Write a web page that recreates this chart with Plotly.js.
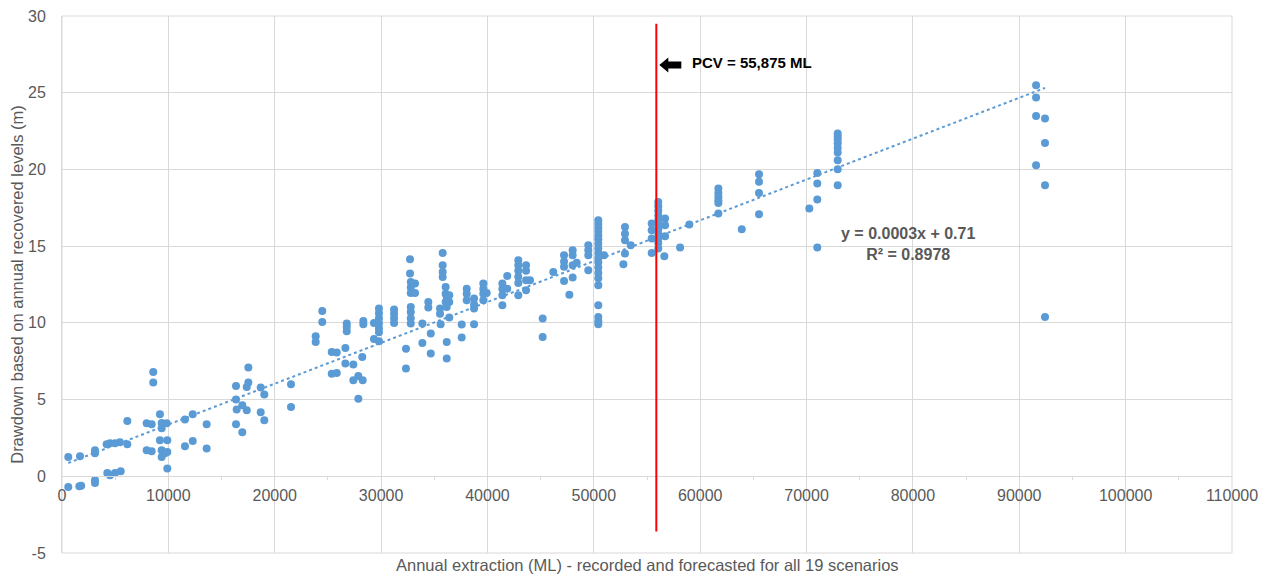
<!DOCTYPE html>
<html>
<head>
<meta charset="utf-8">
<script src="https://cdn.plot.ly/plotly-3.0.1.min.js"></script>
<style>
  html, body { margin: 0; padding: 0; background: #ffffff; }
  #chart { width: 1278px; height: 576px; }
</style>
</head>
<body>
<div id="chart"></div>
<script>
// Annual extraction (ML) per scenario-year, recorded and forecast
const extractionML = [
  590, 1690, 3100, 3100, 4200, 4510, 4980, 5450, 6140, 6140,
  7960, 8430, 8580, 8580, 9210, 9370, 9840, 9370, 9210, 9900,
  7960, 8430, 9370, 9900, 9370, 9680, 9900, 11560, 12290, 11560,
  12290, 13600, 13600, 16360, 17520, 17520, 17370, 18680, 19020, 16360,
  16420, 16950, 17370, 18680, 19020, 16360, 16950, 590, 1630, 1800,
  3100, 3100, 4260, 4510, 4980, 5520,
  21530, 21530, 23850, 23850, 24470, 24470, 25360, 25830, 25360, 25830,
  26640, 26770, 26770, 26770, 26640, 27390, 28230, 27390, 27860, 28270,
  27860, 28330, 28330, 29330, 29330, 29800, 29800, 29800, 29800, 29800,
  29800, 29800, 31220, 31220, 31220, 31220, 32340, 32340, 32790, 32790,
  32790, 32790, 32790, 32790, 32790, 32720, 32720, 33190, 33190, 33880,
  33880, 34440, 34440, 34670, 34670, 35790, 35790, 35790, 35790, 36070,
  36070, 36070, 36410, 36410, 35540, 35540, 35600, 36410, 36170, 36170,
  36170, 36170, 38050, 38050, 38050, 38740, 38740, 38740, 38740, 37580,
  37580, 39610, 39610, 39610, 39610, 39930, 41400, 41400, 41400, 41400,
  41860, 41860, 42900, 42900, 42900, 42900, 42900, 42900, 43630, 43630,
  43630, 43630, 44000, 45190, 45190, 46190, 47200, 47200, 47200, 47200,
  47700, 48010, 48010, 48010, 48010, 48390, 49480, 49480, 49480, 49480,
  50420, 50420, 50420, 50420, 50420, 50420, 50420, 50420, 50420, 50420,
  50420, 50420, 50420, 50420, 50420, 50420, 50420, 50420, 50420,
  50960, 52930, 52930, 52930, 52930, 52780, 53470, 55440, 55440, 55440,
  55440,
  56060, 56060, 56060, 56060, 56060, 56060, 56060, 56060, 56060, 56060,
  56060, 56700, 56700, 56700, 56630, 58110, 58980,
  61710, 61710, 61710, 61710, 61710, 61710, 63910,
  65530, 65530, 65530, 65530, 70260, 71010, 71010, 71010, 71010,
  72930, 72930, 72930, 72930, 72930, 72930, 72930, 72930, 72930,
  91580, 91580, 91580, 91580, 92420, 92420, 92420, 92420
];

// Drawdown based on annual recovered levels (m), paired with extractionML
const drawdownM = [
  1.26, 1.30, 1.69, 1.50, 2.09, 2.15, 2.15, 2.22, 3.60, 2.09,
  3.46, 3.39, 6.80, 6.11, 4.04, 3.47, 3.46, 3.13, 2.35, 2.35,
  1.69, 1.63, 1.69, 1.58, 1.26, 1.50, 0.50, 3.70, 4.04, 1.96,
  2.30, 3.39, 1.81, 5.89, 7.09, 6.11, 5.82, 5.78, 5.33, 5.00,
  4.35, 4.63, 4.30, 4.17, 3.65, 3.39, 2.87, -0.70, -0.65, -0.62,
  -0.44, -0.26, 0.22, 0.07, 0.22, 0.33,
  6.00, 4.52, 9.13, 8.75, 10.78, 10.06, 8.10, 8.06, 6.69, 6.73,
  8.36, 9.95, 9.73, 9.45, 7.35, 7.28, 7.78, 6.26, 6.54, 6.26,
  5.06, 10.12, 9.91, 9.99, 8.95, 8.80, 10.93, 10.63, 10.30, 9.97,
  9.65, 9.39, 10.87, 10.60, 10.30, 9.99, 8.32, 7.02, 12.67, 12.30,
  11.95, 11.04, 10.70, 10.30, 9.95, 14.15, 13.21, 12.56, 11.95, 9.95,
  8.69, 11.36, 11.00, 9.30, 8.00, 14.56, 13.75, 13.32, 12.99, 12.34,
  11.90, 11.36, 11.80, 11.36, 10.93, 10.60, 9.91, 10.35, 8.75, 7.67,
  11.04, 11.70, 12.23, 11.90, 11.47, 11.58, 11.20, 10.93, 9.91, 9.89,
  9.04, 12.56, 12.20, 11.90, 11.47, 11.95, 12.56, 12.20, 11.80, 11.15,
  13.06, 12.23, 14.08, 13.75, 13.40, 13.00, 12.60, 11.80, 13.75, 13.40,
  12.78, 12.12, 12.78, 10.28, 9.08, 13.32, 14.41, 14.00, 13.65, 12.73,
  11.84, 14.73, 14.41, 13.75, 12.95, 13.91, 15.06, 14.73, 14.41, 13.43,
  16.69, 16.45, 16.20, 15.95, 15.70, 15.45, 15.15, 14.85, 14.55, 14.25,
  13.95, 13.60, 13.25, 12.90, 12.45, 11.15, 10.38, 10.10, 9.91,
  14.41, 16.25, 15.80, 15.38, 14.52, 13.82, 15.06, 16.47, 16.04, 15.50,
  14.56,
  17.88, 17.60, 17.30, 17.00, 16.70, 16.40, 16.10, 15.80, 15.50, 15.20,
  14.84, 16.80, 16.36, 15.65, 14.34, 14.91, 16.41,
  18.75, 18.47, 18.20, 17.99, 17.82, 17.13, 16.10,
  19.69, 19.19, 18.47, 17.08, 17.45, 19.77, 19.08, 18.04, 14.91,
  22.34, 22.15, 21.95, 21.70, 21.40, 21.10, 20.60, 20.01, 18.97,
  25.49, 24.69, 23.49, 20.27, 23.32, 21.73, 18.97, 10.38
];

// Potentially consumable volume (ML)
const PCV = 55875;

// Linear trendline: intercept as reported, slope fitted to the scatter
const TREND_INTERCEPT = 0.71;
const trendLabel = ["y = 0.0003x + 0.71", "R² = 0.8978"];
const xTitle = "Annual extraction (ML) - recorded and forecasted for all 19 scenarios";
const yTitle = "Drawdown based on annual recovered levels (m)";
const yTicks = [-5, 0, 5, 10, 15, 20, 25, 30];

// Least-squares slope for a line through the given intercept
function fitSlope(xs, ys, b) {
  let num = 0, den = 0;
  for (let i = 0; i < xs.length; i++) {
    num += xs[i] * (ys[i] - b);
    den += xs[i] * xs[i];
  }
  return num / den;
}

const slope = fitSlope(extractionML, drawdownM, TREND_INTERCEPT);
const xMin = Math.min(...extractionML);
const xMax = Math.max(...extractionML);
const trendX = [xMin, xMax];
const trendY = trendX.map(v => slope * v + TREND_INTERCEPT);

const BLUE = "#5B9BD5";
const GRID = "#d9d9d9";
const TEXT = "#595959";
const FONT = "Liberation Sans, Arial, sans-serif";

const traces = [
  {
    type: "scatter",
    mode: "lines",
    x: trendX,
    y: trendY,
    line: { color: BLUE, width: 2, dash: "dot" },
    hoverinfo: "skip",
    showlegend: false
  },
  {
    type: "scatter",
    mode: "markers",
    x: extractionML,
    y: drawdownM,
    marker: { color: BLUE, size: 8 },
    showlegend: false
  }
];

const layout = {
  width: 1278,
  height: 576,
  margin: { l: 62, r: 46, t: 16, b: 23 },
  paper_bgcolor: "#ffffff",
  plot_bgcolor: "#ffffff",
  font: { family: FONT, color: TEXT, size: 16 },
  showlegend: false,
  xaxis: {
    range: [0, 110000],
    dtick: 10000,
    tick0: 0,
    tickformat: "d",
    anchor: "free",
    position: 5 / 35,
    showgrid: true,
    gridcolor: GRID,
    gridwidth: 1,
    showline: true,
    linecolor: GRID,
    linewidth: 1,
    zeroline: false,
    ticks: "",
    ticklabelstandoff: 5,
    tickfont: { family: FONT, size: 16, color: TEXT },
    minor: { dtick: 5000, tick0: 0, ticks: "outside", ticklen: 3, tickcolor: GRID, showgrid: false }
  },
  yaxis: {
    range: [-5, 30],
    tickmode: "array",
    tickvals: yTicks,
    ticktext: yTicks.map(v => String(v)),
    showgrid: true,
    gridcolor: GRID,
    gridwidth: 1,
    showline: true,
    linecolor: GRID,
    linewidth: 1,
    zeroline: false,
    ticks: "",
    ticklabelstandoff: 12,
    tickfont: { family: FONT, size: 16, color: TEXT },
    title: { text: yTitle, font: { family: FONT, size: 16.5, color: TEXT }, standoff: 0 }
  },
  shapes: [
    {
      type: "rect", xref: "paper", yref: "paper", x0: 0, x1: 1, y0: 0, y1: 1,
      line: { color: GRID, width: 1 }, layer: "below"
    },
    {
      type: "line", xref: "x", yref: "y", x0: PCV, x1: PCV, y0: -3.6, y1: 29.5,
      line: { color: "#ff0000", width: 2 }
    },
    {
      // block arrow pointing at the PCV line
      type: "path", xref: "x", yref: "y",
      xsizemode: "pixel", ysizemode: "pixel",
      xanchor: PCV, yanchor: 26.8,
      path: "M 3 0 L 12 7.5 L 12 3.5 L 25 3.5 L 25 -3.5 L 12 -3.5 L 12 -7.5 Z",
      fillcolor: "#000000",
      line: { width: 0 }
    }
  ],
  annotations: [
    {
      text: "PCV = " + PCV.toLocaleString("en-US") + " ML",
      xref: "x", yref: "y", x: PCV, y: 26.95,
      xanchor: "left", yanchor: "middle", xshift: 34,
      showarrow: false,
      font: { family: FONT, size: 15, color: "#000000", weight: "bold" }
    },
    {
      text: trendLabel.join("<br>"),
      xref: "x", yref: "y", x: 79500, y: 15.12,
      xanchor: "center", yanchor: "middle", align: "center",
      showarrow: false,
      font: { family: FONT, size: 16, color: TEXT, weight: "bold" }
    },
    {
      text: xTitle,
      xref: "paper", yref: "paper", x: 0.5, y: 0,
      xanchor: "center", yanchor: "top", yshift: -1,
      showarrow: false,
      font: { family: FONT, size: 16.5, color: TEXT }
    }
  ]
};

Plotly.newPlot("chart", traces, layout, { displayModeBar: false, staticPlot: true });
</script>
</body>
</html>
